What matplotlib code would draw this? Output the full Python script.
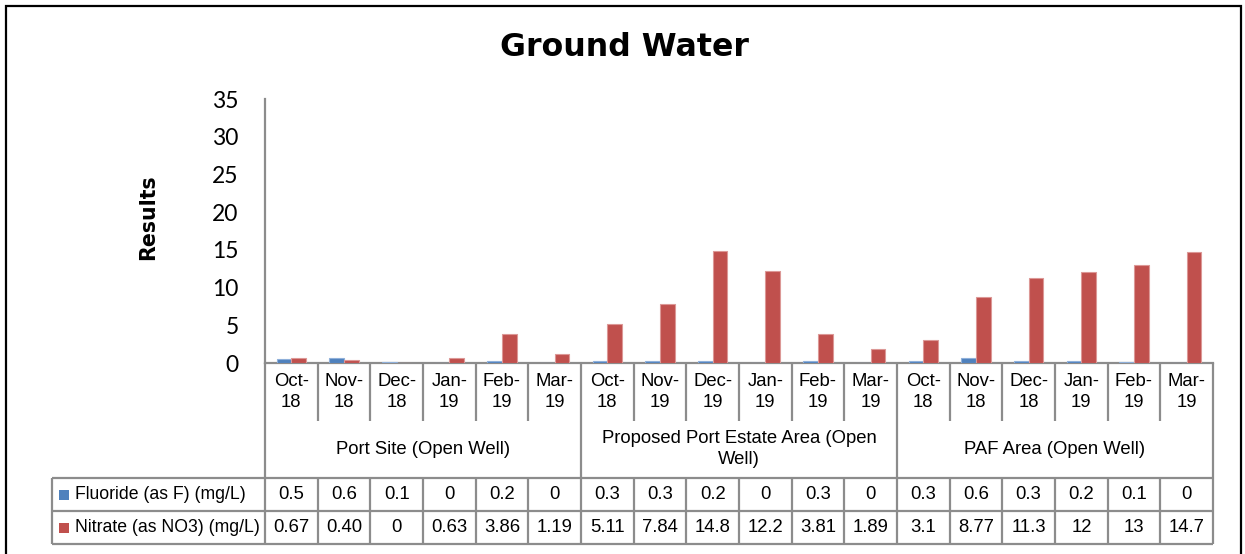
import matplotlib
matplotlib.use("Agg")
import matplotlib.pyplot as plt
from matplotlib.patches import Rectangle
from matplotlib.lines import Line2D

# ---------------- data ----------------
groups = ["Port Site (Open Well)",
          "Proposed Port Estate Area (Open\nWell)",
          "PAF Area (Open Well)"]
months = ["Oct-\n18", "Nov-\n18", "Dec-\n18", "Jan-\n19", "Feb-\n19", "Mar-\n19",
          "Oct-\n18", "Nov-\n19", "Dec-\n19", "Jan-\n19", "Feb-\n19", "Mar-\n19",
          "Oct-\n18", "Nov-\n18", "Dec-\n18", "Jan-\n19", "Feb-\n19", "Mar-\n19"]
series_names = ["Fluoride (as F) (mg/L)", "Nitrate (as NO3) (mg/L)"]
fluoride = [0.5, 0.6, 0.1, 0, 0.2, 0, 0.3, 0.3, 0.2, 0, 0.3, 0, 0.3, 0.6, 0.3, 0.2, 0.1, 0]
nitrate = [0.67, 0.40, 0, 0.63, 3.86, 1.19, 5.11, 7.84, 14.8, 12.2, 3.81, 1.89,
           3.1, 8.77, 11.3, 12, 13, 14.7]
fluoride_txt = ["0.5", "0.6", "0.1", "0", "0.2", "0", "0.3", "0.3", "0.2", "0", "0.3", "0",
                "0.3", "0.6", "0.3", "0.2", "0.1", "0"]
nitrate_txt = ["0.67", "0.40", "0", "0.63", "3.86", "1.19", "5.11", "7.84", "14.8", "12.2",
               "3.81", "1.89", "3.1", "8.77", "11.3", "12", "13", "14.7"]
yticks = [0, 5, 10, 15, 20, 25, 30, 35]
colors = ["#4F81BD", "#C0504D"]
edgecolors = ["#8FB0DA", "#DC9896"]

# ---------------- layout helpers ----------------
W, H = 1245, 554
fig = plt.figure(figsize=(W / 100, H / 100), dpi=100)
fig.patch.set_facecolor("white")


def px_rect(l, t, r, b):
    return [l / W, 1 - b / H, (r - l) / W, (b - t) / H]


AX_L, AX_R, AX_T, AX_B = 265, 1213, 99, 363
TAB_L, TAB_B = 52, 545
n = len(months)
cw = (AX_R - AX_L) / n
line_col = "#8C8C8C"
narrow = ["Liberation Sans", "DejaVu Sans"]

# ---------------- main chart ----------------
ax = fig.add_axes(px_rect(AX_L, AX_T, AX_R, AX_B))
ax.set_xlim(-0.5, n - 0.5)
ax.set_ylim(0, 35)
w = 0.28
x = list(range(n))
ax.bar([i - w / 2 for i in x], fluoride, width=w, color=colors[0],
       edgecolor=edgecolors[0], linewidth=0.8, zorder=3)
ax.bar([i + w / 2 for i in x], nitrate, width=w, color=colors[1],
       edgecolor=edgecolors[1], linewidth=0.8, zorder=3)
for s in ["top", "right"]:
    ax.spines[s].set_visible(False)
for s in ["left", "bottom"]:
    ax.spines[s].set_color(line_col)
    ax.spines[s].set_linewidth(1.6)
ax.set_xticks([])
ax.set_yticks(yticks)
ax.tick_params(axis="y", length=0, pad=19)
for lab in ax.get_yticklabels():
    lab.set_fontfamily(["Lato", "DejaVu Sans"])
    lab.set_fontsize(16.5)
    lab.set_color("#000000")

fig.text(624 / W, 1 - 47 / H, "Ground Water", ha="center", va="center",
         fontsize=22.8, fontweight="bold", family="DejaVu Sans")
fig.text(148 / W, 1 - 217 / H, "Results", ha="center", va="center",
         rotation=90, fontsize=14.8, fontweight="bold", family="DejaVu Sans")

# ---------------- category labels + data table ----------------
tax = fig.add_axes(px_rect(TAB_L, AX_B, AX_R, TAB_B))
x_left = -0.5 - (AX_L - TAB_L) / cw
tax.set_xlim(x_left, n - 0.5)
tax.set_ylim(TAB_B, AX_B)
tax.axis("off")

ROW1_T, ROW2_T, TAB_END = 478, 511, 544
MONTH_END = 421
lk = dict(color=line_col, lw=1.6, clip_on=False, solid_capstyle="butt")

group_edges = [-0.5, 5.5, 11.5, n - 0.5]
for i in range(n + 1):
    xb = i - 0.5
    if xb in group_edges:
        tax.plot([xb, xb], [AX_B, TAB_END], **lk)
    else:
        tax.plot([xb, xb], [AX_B, MONTH_END], **lk)
        tax.plot([xb, xb], [ROW1_T, TAB_END], **lk)
for yy in [ROW1_T, ROW2_T, TAB_END]:
    tax.plot([x_left, n - 0.5], [yy, yy], **lk)
tax.plot([x_left, x_left], [ROW1_T, TAB_END], **lk)

for i, m in enumerate(months):
    tax.text(i, 392, m, ha="center", va="center", fontsize=13.3,
             family=narrow, linespacing=1.25)
for g, name in enumerate(groups):
    cx = (group_edges[g] + group_edges[g + 1]) / 2
    tax.text(cx, 449, name, ha="center", va="center", fontsize=13.3,
             family=narrow, linespacing=1.25)

rows = [fluoride_txt, nitrate_txt]
row_centers = [(ROW1_T + ROW2_T) / 2, (ROW2_T + TAB_END) / 2]
for r, (vals, yc) in enumerate(zip(rows, row_centers)):
    for i, v in enumerate(vals):
        tax.text(i, yc, v, ha="center", va="center", fontsize=13.3, family=narrow)
    # legend key
    kx = x_left + (59 - TAB_L) / cw
    tax.add_patch(Rectangle((kx, yc - 5), 10 / cw, 10, facecolor=colors[r],
                            edgecolor="none", clip_on=False))
    tax.text(x_left + (75 - TAB_L) / cw, yc, series_names[r], ha="left",
             va="center", fontsize=12.7, family=narrow)

# ---------------- outer border (left, top, right) ----------------
bx = [6 / W, 6 / W, 1241 / W, 1241 / W]
by = [0.0, 1 - 6 / H, 1 - 6 / H, 0.0]
fig.add_artist(Line2D(bx, by, transform=fig.transFigure, color="black",
                      linewidth=1.6, solid_joinstyle="miter"))

fig.savefig("out.png", dpi=100, facecolor="white")
